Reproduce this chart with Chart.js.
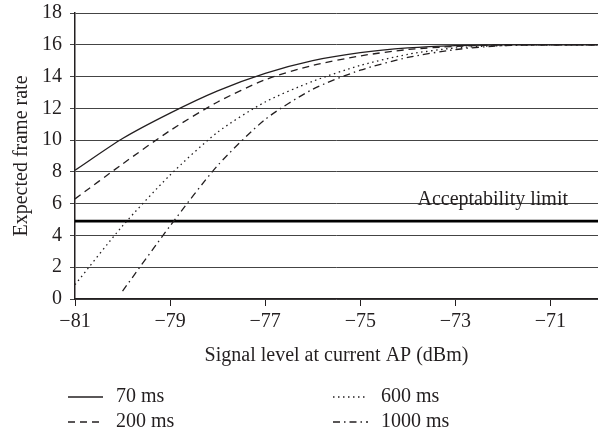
<!DOCTYPE html>
<html>
<head>
<meta charset="utf-8">
<script src="https://cdn.jsdelivr.net/npm/chart.js@4.4.1/dist/chart.umd.min.js"></script>
<style>
	html, body { margin: 0; padding: 0; background: #fff; }
	#wrap { width: 598px; height: 436px; }
</style>
</head>
<body>
<div id="wrap"><canvas id="chart" width="598" height="436"></canvas></div>
<script>
// Signal level (dBm)
const signalLevels = [-81, -80, -79, -78, -77, -76, -75, -74, -73, -72, -71, -70];
const xTicks = [-81, -79, -77, -75, -73, -71];

// Expected frame rate per handover delay
const rate70 = [8.1, 10.1, 11.7, 13.1, 14.2, 15.0, 15.5, 15.8, 15.95, 16, 16, 16];
const rate200 = [6.3, 8.5, 10.6, 12.4, 13.8, 14.7, 15.3, 15.7, 15.9, 16, 16, 16];
const rate600 = [0.9, 4.6, 7.8, 10.5, 12.4, 13.7, 14.7, 15.4, 15.8, 15.95, 16, 16];
const rate1000 = [null, 0.5, 4.6, 8.4, 11.3, 13.2, 14.4, 15.2, 15.7, 15.95, 16, 16];

const limitValue = 4.9;
const limitLabel = 'Acceptability limit';

const font = "'Liberation Serif', 'DejaVu Serif', serif";
const ink = '#231f20';

function toPoints(values) {
	return signalLevels.map((x, i) => ({ x: x, y: values[i] }));
}

function minus(v) {
	return v < 0 ? '\u2212' + Math.abs(v) : String(v);
}

const series = [
	{ label: '70 ms', data: rate70, dash: [] },
	{ label: '200 ms', data: rate200, dash: [7, 5] },
	{ label: '600 ms', data: rate600, dash: [1.5, 3.5] },
	{ label: '1000 ms', data: rate1000, dash: [7, 4, 1.5, 4] }
];

const datasets = series.map(s => ({
	label: s.label,
	data: toPoints(s.data),
	borderColor: ink,
	borderWidth: 1.3,
	borderDash: s.dash,
	pointRadius: 0,
	tension: 0.25,
	fill: false
}));

datasets.push({
	label: limitLabel,
	data: [{ x: -81, y: limitValue }, { x: -70, y: limitValue }],
	borderColor: '#000',
	borderWidth: 2.6,
	pointRadius: 0,
	fill: false
});

// Limit label and the two-column legend under the chart
const extras = {
	id: 'extras',
	afterDraw(chart) {
		const ctx = chart.ctx;
		const area = chart.chartArea;
		const yScale = chart.scales.y;
		ctx.save();
		ctx.fillStyle = ink;
		ctx.font = "20px " + font;
		ctx.textAlign = 'right';
		ctx.textBaseline = 'alphabetic';
		ctx.fillText(limitLabel, area.right - 30, yScale.getPixelForValue(6) + 1);

		const rows = [397, 422];
		const cols = [68, 333];
		ctx.textAlign = 'left';
		ctx.textBaseline = 'middle';
		series.forEach((s, i) => {
			const x = cols[Math.floor(i / 2)];
			const y = rows[i % 2];
			ctx.beginPath();
			ctx.strokeStyle = ink;
			ctx.lineWidth = 1.3;
			ctx.setLineDash(s.dash);
			ctx.moveTo(x, y);
			ctx.lineTo(x + 35, y);
			ctx.stroke();
			ctx.setLineDash([]);
			ctx.fillText(s.label, x + 48, y);
		});
		ctx.restore();
	}
};

const chart = new Chart(document.getElementById('chart').getContext('2d'), {
	type: 'line',
	data: { datasets: datasets },
	plugins: [extras],
	options: {
		responsive: false,
		animation: false,
		layout: { padding: { top: 13, right: 0, bottom: 64, left: 0 } },
		plugins: {
			legend: { display: false },
			tooltip: { enabled: false }
		},
		scales: {
			x: {
				type: 'linear',
				min: -81,
				max: -70,
				afterBuildTicks: scale => {
					scale.ticks = xTicks.map(v => ({ value: v }));
				},
				afterFit: scale => {
					scale.height = 73;
					scale.paddingLeft = 0;
					scale.paddingRight = 0;
				},
				grid: {
					drawOnChartArea: false,
					drawTicks: true,
					tickLength: 7,
					color: ink
				},
				border: { display: true, color: ink, width: 1.2 },
				ticks: {
					color: ink,
					padding: 4,
					font: { family: font, size: 20 },
					maxRotation: 0,
					callback: v => minus(v)
				},
				title: {
					display: true,
					text: 'Signal level at current AP (dBm)',
					color: ink,
					font: { family: font, size: 20 },
					padding: { top: 0, bottom: 4 }
				}
			},
			y: {
				min: 0,
				max: 18,
				afterFit: scale => {
					scale.width = 75;
					scale.paddingTop = 0;
					scale.paddingBottom = 0;
				},
				ticks: {
					stepSize: 2,
					color: ink,
					padding: 8,
					font: { family: font, size: 20 }
				},
				grid: {
					color: '#444',
					lineWidth: 1,
					tickLength: 5
				},
				border: { display: true, color: ink, width: 1.5 },
				title: {
					display: true,
					text: 'Expected frame rate',
					color: ink,
					font: { family: font, size: 20 },
					padding: { top: 10, bottom: 0 }
				}
			}
		}
	}
});
</script>
</body>
</html>
